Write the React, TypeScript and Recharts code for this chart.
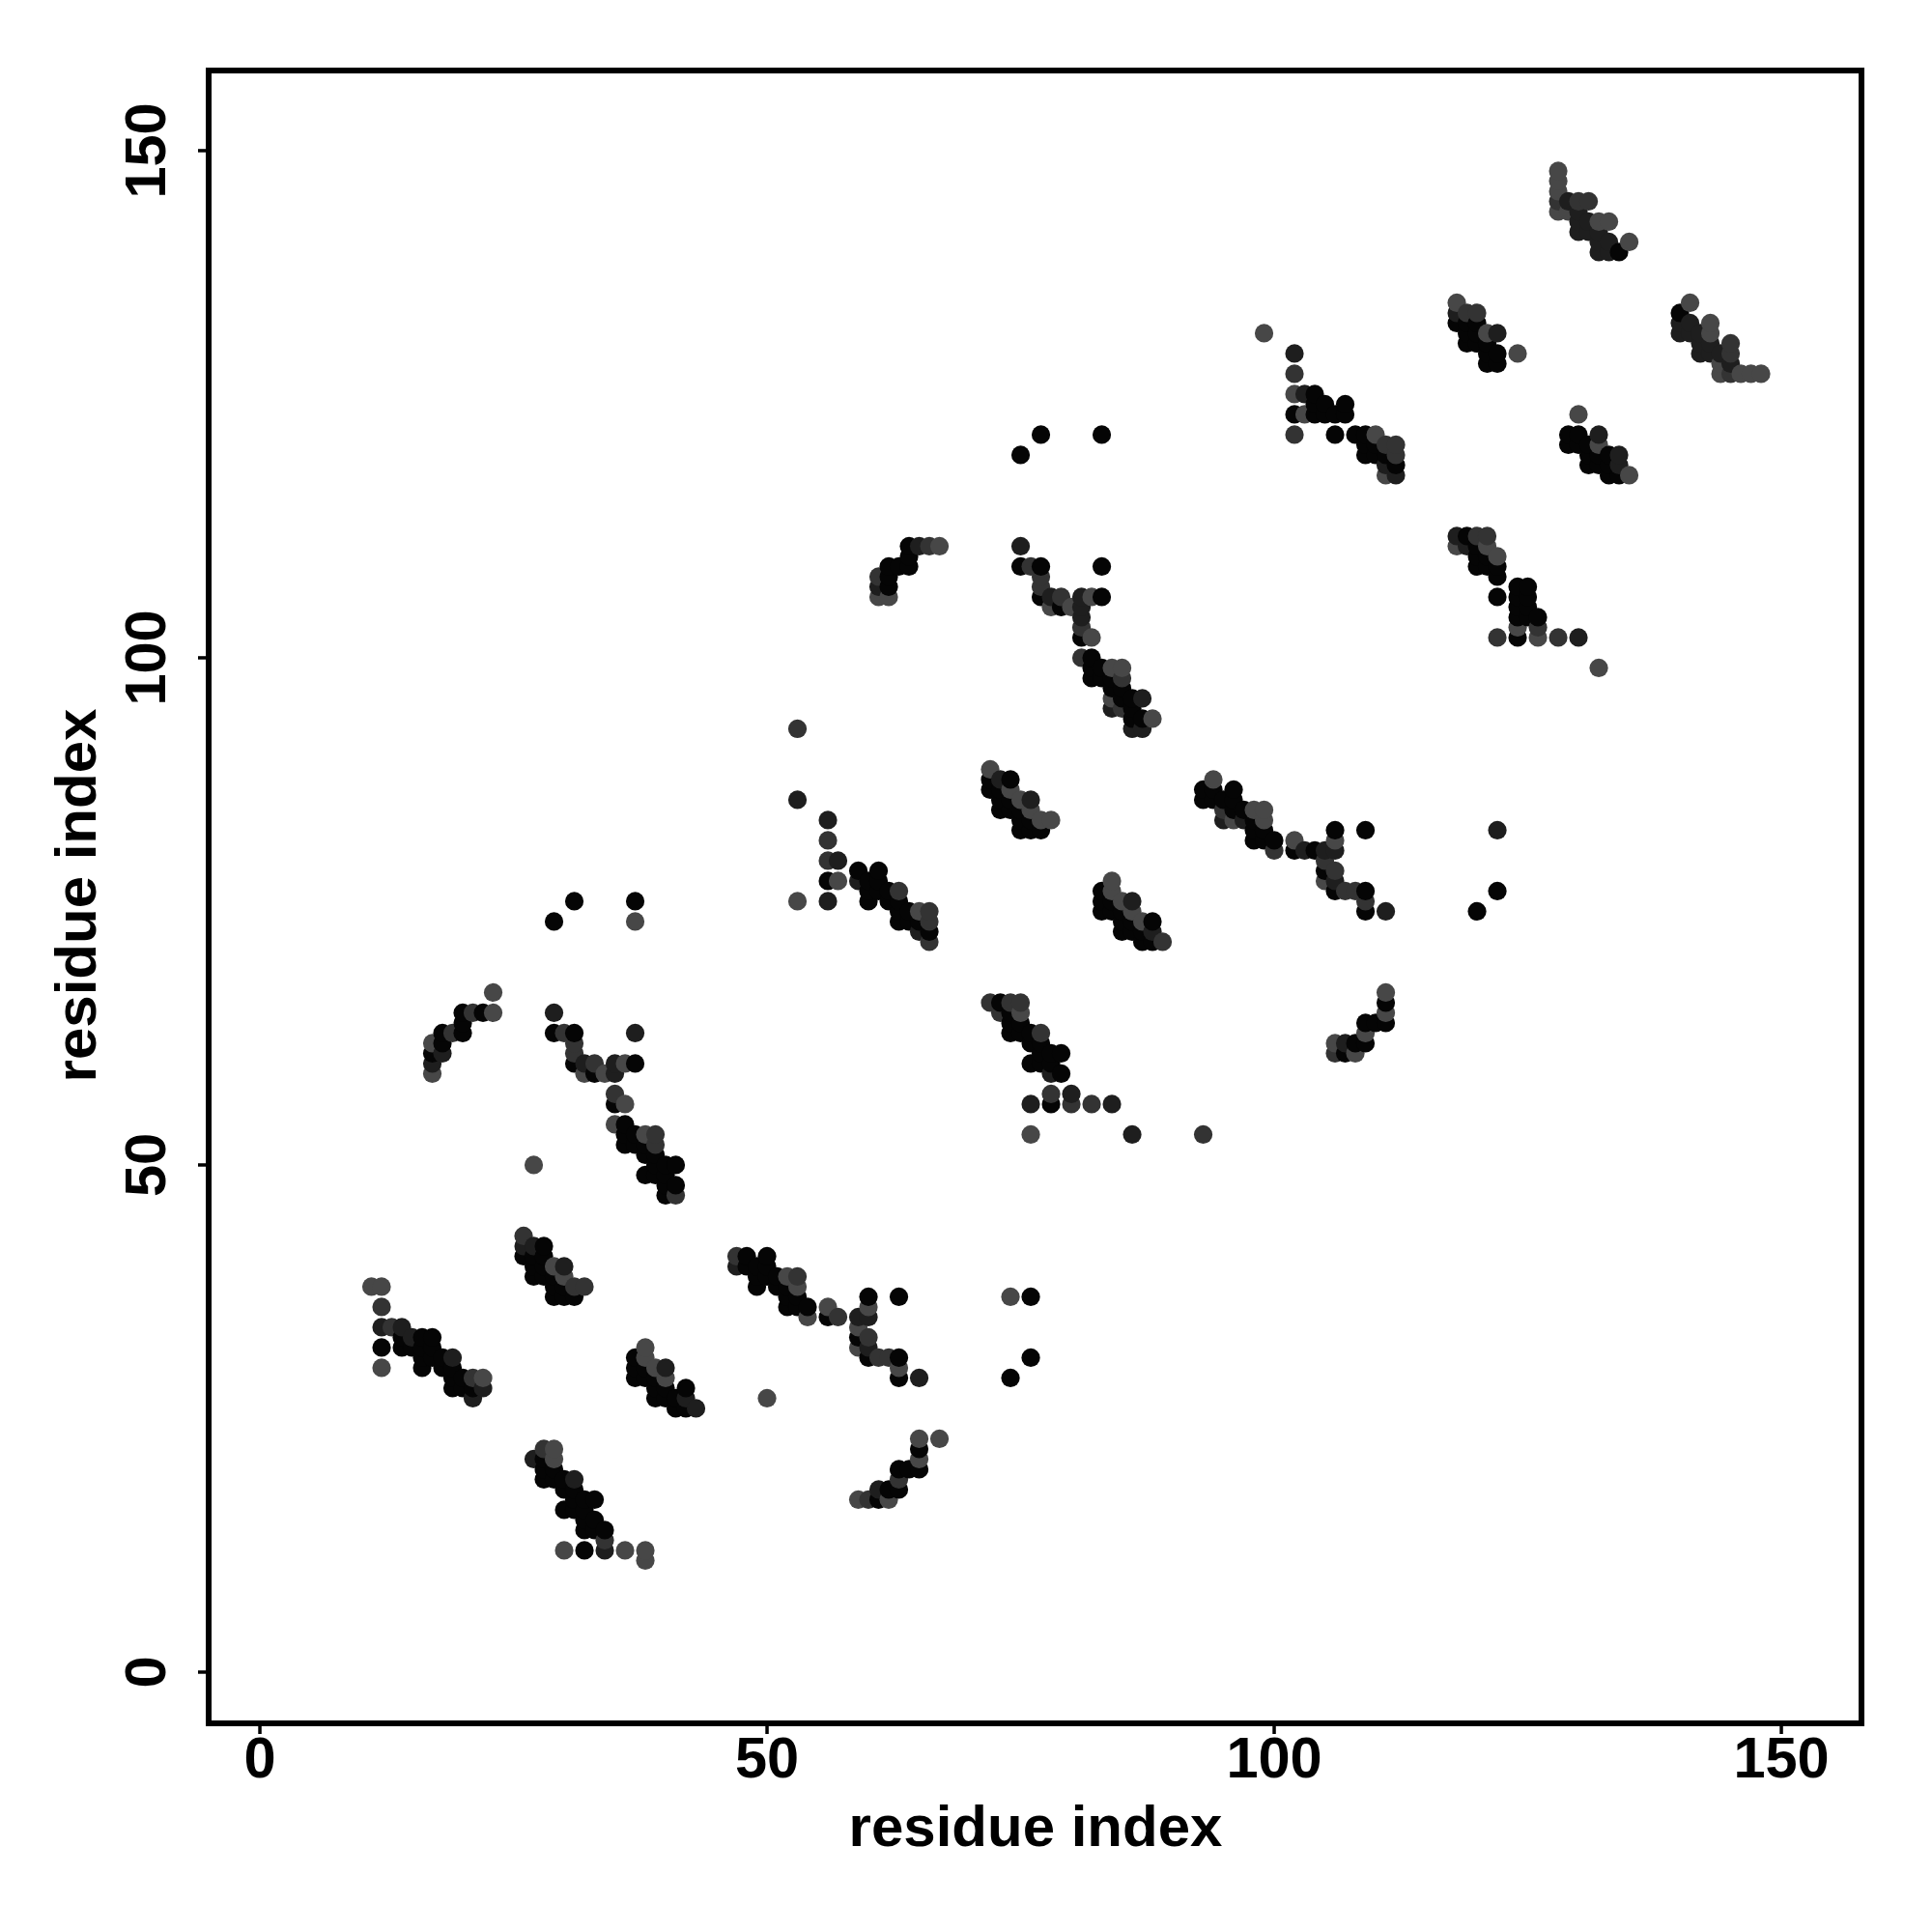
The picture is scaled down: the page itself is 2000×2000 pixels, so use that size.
import { ScatterChart, Scatter, XAxis, YAxis, ReferenceArea } from 'recharts';

// [residue i, residue j, shade level] - level 0 is darkest, 3 is lightest
type Contact = [number, number, number];

const TICKS = [0, 50, 100, 150];
const AXIS_TITLE = 'residue index';
const SHADES = ['#050505', '#1e1e1e', '#333333', '#474747'];

const clusterA: Contact[] = [
  [11, 38, 3], [12, 38, 3], [12, 36, 2], [12, 34, 1], [13, 34, 2], [14, 34, 1], [12, 32, 0], [12, 30, 3],
  [14, 33, 0], [14, 32, 0], [15, 33, 1], [15, 32, 0], [16, 33, 0], [16, 32, 0], [16, 31, 0], [16, 30, 0],
  [17, 33, 0], [17, 32, 0], [17, 31, 0], [18, 31, 0], [18, 30, 0], [19, 31, 1], [19, 30, 0], [19, 29, 0],
  [19, 28, 0], [20, 29, 0], [20, 28, 0], [21, 29, 2], [21, 28, 0], [21, 27, 1], [22, 29, 3], [22, 28, 1],
];

const clusterB: Contact[] = [
  [26, 43, 2], [26, 42, 1], [26, 41, 0], [27, 42, 1], [28, 42, 0], [27, 41, 0], [27, 40, 0], [27, 39, 0],
  [28, 41, 0], [28, 40, 0], [28, 39, 0], [29, 40, 3], [30, 40, 1], [30, 39, 3], [29, 39, 0], [29, 38, 0],
  [29, 37, 0], [30, 38, 0], [30, 37, 0], [31, 38, 2], [31, 37, 0], [32, 38, 2],
];

const clusterC: Contact[] = [
  [38, 32, 3], [37, 31, 0], [37, 30, 0], [37, 29, 0], [38, 31, 3], [38, 30, 0], [38, 29, 0], [39, 30, 3],
  [40, 30, 1], [40, 29, 3], [39, 29, 0], [39, 28, 0], [39, 27, 0], [40, 28, 0], [40, 27, 0], [41, 27, 0],
  [41, 26, 0], [42, 28, 0], [42, 27, 1], [42, 26, 0], [43, 26, 1],
];

const clusterD: Contact[] = [
  [29, 22, 3], [28, 22, 2], [27, 21, 1], [28, 21, 0], [29, 21, 3], [28, 20, 0], [28, 19, 0], [29, 20, 0],
  [29, 19, 0], [30, 19, 0], [30, 18, 0], [31, 19, 1], [31, 18, 0], [31, 17, 0], [30, 16, 0], [31, 16, 0],
  [32, 17, 0], [33, 17, 0], [32, 16, 0], [32, 15, 0], [33, 15, 0], [32, 14, 0], [33, 14, 0], [34, 14, 0],
  [34, 13, 2], [34, 12, 1], [30, 12, 3], [32, 12, 0], [36, 12, 3], [38, 12, 3], [38, 11, 3],
];

const clusterE: Contact[] = [
  [47, 41, 2], [47, 40, 1], [48, 41, 0], [48, 40, 0], [50, 41, 0], [49, 40, 0], [49, 39, 0], [49, 38, 0],
  [50, 40, 0], [50, 39, 0], [51, 39, 0], [51, 38, 0], [52, 39, 3], [53, 39, 2], [53, 38, 3], [52, 38, 0],
  [52, 37, 0], [52, 36, 0], [53, 37, 0], [53, 36, 0], [54, 36, 0], [54, 35, 3], [56, 36, 3], [56, 35, 0],
  [57, 35, 2], [60, 37, 0], [60, 36, 3], [60, 35, 1], [59, 35, 1], [59, 34, 3], [59, 33, 0], [59, 32, 3],
  [60, 33, 2], [60, 32, 1], [60, 31, 0], [61, 31, 2], [62, 31, 2], [63, 31, 0], [63, 30, 3], [63, 29, 0],
  [65, 29, 1], [63, 37, 0], [74, 37, 3], [76, 37, 0], [76, 31, 0], [74, 29, 0], [50, 27, 3],
];

const clusterF: Contact[] = [
  [65, 23, 3], [67, 23, 3], [65, 22, 0], [65, 21, 3], [65, 20, 0], [64, 20, 0], [63, 20, 0], [63, 19, 2],
  [63, 18, 0], [62, 18, 0], [61, 18, 1], [62, 17, 3], [61, 17, 0], [60, 17, 2], [59, 17, 3],
];

const clusterG: Contact[] = [
  [31, 76, 0], [37, 76, 0], [29, 74, 0], [37, 74, 3], [23, 67, 3], [23, 65, 3], [22, 65, 0], [21, 65, 2],
  [20, 65, 0], [20, 64, 0], [20, 63, 0], [19, 63, 2], [18, 63, 0], [18, 62, 0], [18, 61, 1], [17, 62, 3],
  [17, 61, 0], [17, 60, 1], [17, 59, 3],
];

const clusterH: Contact[] = [
  [29, 65, 1], [29, 63, 0], [30, 63, 2], [31, 63, 0], [31, 62, 2], [31, 61, 2], [31, 60, 0], [32, 60, 1],
  [33, 60, 2], [32, 59, 3], [33, 59, 0], [34, 59, 3], [35, 60, 1], [35, 59, 1], [36, 60, 3], [37, 60, 0],
  [37, 63, 1], [35, 57, 2], [35, 56, 0], [36, 56, 3], [35, 54, 3], [36, 54, 0], [36, 53, 0], [36, 52, 0],
  [37, 53, 0], [37, 52, 0], [38, 53, 3], [39, 53, 2], [39, 52, 2], [38, 52, 0], [38, 51, 0], [39, 51, 0],
  [39, 50, 0], [38, 49, 0], [39, 49, 0], [40, 50, 0], [41, 50, 0], [40, 49, 0], [41, 48, 0], [40, 48, 0],
  [40, 47, 0], [41, 47, 2], [27, 50, 3],
];

const clusterI: Contact[] = [
  [53, 93, 2], [53, 86, 1], [56, 84, 1], [56, 82, 2], [56, 80, 2], [57, 80, 1], [56, 78, 0], [57, 78, 3],
  [56, 76, 1], [53, 76, 3], [59, 79, 0], [59, 78, 1], [61, 79, 0], [60, 78, 0], [60, 77, 0], [60, 76, 0],
  [61, 78, 0], [61, 77, 0], [62, 77, 0], [62, 76, 0], [63, 77, 2], [63, 76, 0], [63, 75, 0], [63, 74, 0],
  [64, 74, 0], [64, 75, 0], [65, 75, 3], [66, 75, 2], [66, 74, 2], [65, 74, 0], [65, 73, 1], [66, 73, 0],
  [66, 72, 2],
];

const clusterJ: Contact[] = [
  [72, 89, 3], [72, 88, 0], [72, 87, 0], [73, 88, 1], [74, 88, 0], [73, 87, 0], [73, 86, 0], [73, 85, 0],
  [74, 87, 3], [75, 86, 3], [76, 86, 1], [74, 86, 0], [74, 85, 0], [75, 85, 0], [75, 84, 0], [75, 83, 0],
  [76, 85, 3], [76, 84, 0], [76, 83, 0], [77, 83, 0], [77, 84, 3], [78, 84, 3],
];

const clusterK: Contact[] = [
  [84, 78, 3], [83, 77, 0], [83, 76, 0], [83, 75, 0], [84, 77, 3], [84, 76, 0], [84, 75, 0], [85, 76, 3],
  [86, 76, 1], [86, 75, 3], [85, 75, 0], [85, 74, 0], [85, 73, 0], [86, 74, 0], [86, 73, 0], [87, 74, 3],
  [88, 74, 0], [87, 73, 0], [87, 72, 0], [88, 73, 1], [88, 72, 0], [89, 72, 2],
];

const clusterL: Contact[] = [
  [94, 88, 3], [93, 87, 0], [93, 86, 0], [94, 87, 0], [94, 86, 0], [96, 87, 0], [95, 86, 0], [96, 86, 0],
  [95, 85, 2], [95, 84, 1], [96, 85, 0], [96, 84, 3], [97, 85, 0], [97, 84, 1], [98, 85, 3], [99, 85, 3],
  [99, 84, 3], [98, 84, 0], [98, 83, 0], [98, 82, 0], [99, 83, 0], [99, 82, 0], [100, 82, 0], [100, 81, 2],
];

const clusterM: Contact[] = [
  [102, 82, 3], [102, 81, 0], [103, 81, 1], [104, 81, 0], [105, 81, 1], [106, 83, 0], [106, 82, 3],
  [106, 81, 1], [109, 83, 0], [105, 80, 2], [105, 79, 0], [105, 78, 3], [106, 79, 2], [106, 78, 1],
  [106, 77, 0], [107, 77, 2], [108, 77, 2], [109, 77, 0], [109, 76, 2], [109, 75, 0], [111, 75, 1],
  [122, 83, 1], [122, 77, 0], [120, 75, 0],
];

const clusterN: Contact[] = [
  [72, 66, 2], [73, 66, 0], [74, 66, 2], [75, 66, 2], [73, 65, 2], [74, 65, 0], [75, 65, 3], [74, 64, 0],
  [74, 63, 0], [75, 64, 0], [75, 63, 0], [76, 63, 0], [76, 62, 0], [77, 63, 2], [77, 62, 0], [77, 61, 0],
  [76, 60, 0], [77, 60, 0], [78, 61, 0], [79, 61, 0], [78, 60, 0], [78, 59, 1], [79, 59, 0], [78, 57, 2],
  [78, 56, 0], [80, 57, 1], [80, 56, 2], [82, 56, 2], [84, 56, 1], [76, 56, 1], [76, 53, 3], [86, 53, 1],
  [93, 53, 2],
];

const clusterO: Contact[] = [
  [111, 67, 3], [111, 66, 0], [111, 65, 3], [111, 64, 0], [110, 64, 0], [109, 64, 0], [109, 63, 3],
  [109, 62, 0], [108, 62, 0], [107, 62, 1], [108, 61, 3], [107, 61, 0], [106, 62, 3], [106, 61, 2],
];

const clusterP: Contact[] = [
  [77, 122, 0], [83, 122, 0], [75, 120, 0], [75, 111, 1], [75, 109, 0], [76, 109, 2], [77, 109, 0],
  [77, 108, 2], [77, 107, 2], [77, 106, 0], [78, 106, 1], [79, 106, 2], [78, 105, 3], [79, 105, 0],
  [80, 105, 3], [81, 106, 1], [81, 105, 1], [81, 104, 1], [81, 103, 2], [81, 102, 0], [82, 102, 3],
  [82, 106, 3], [83, 106, 0], [83, 109, 0],
];

const clusterQ: Contact[] = [
  [81, 100, 2], [82, 100, 0], [82, 99, 0], [82, 98, 0], [83, 99, 0], [83, 98, 0], [84, 99, 3], [85, 99, 3],
  [85, 98, 2], [84, 98, 0], [84, 97, 0], [84, 96, 3], [84, 95, 1], [85, 97, 0], [85, 96, 0], [85, 95, 2],
  [86, 96, 0], [87, 96, 1], [86, 95, 0], [86, 94, 0], [86, 93, 1], [87, 94, 0], [87, 93, 1], [88, 94, 3],
];

const clusterR: Contact[] = [
  [61, 108, 2], [61, 107, 1], [61, 106, 3], [62, 109, 0], [62, 108, 0], [62, 107, 0], [62, 106, 3],
  [63, 109, 0], [64, 109, 0], [64, 110, 0], [64, 111, 0], [65, 111, 1], [66, 111, 2], [67, 111, 3],
];

const clusterS: Contact[] = [
  [99, 132, 3], [102, 130, 1], [102, 128, 2], [102, 126, 3], [103, 126, 1], [104, 126, 0], [102, 124, 0],
  [103, 124, 3], [104, 125, 0], [105, 125, 0], [104, 124, 0], [105, 124, 0], [106, 124, 0], [107, 125, 0],
  [107, 124, 0], [102, 122, 2], [106, 122, 0], [108, 122, 0], [109, 122, 0], [110, 122, 3], [109, 121, 0],
  [109, 120, 0], [110, 121, 0], [110, 120, 0], [111, 121, 2], [112, 121, 2], [112, 120, 2], [111, 120, 0],
  [111, 119, 1], [112, 119, 0], [111, 118, 3], [112, 118, 1],
];

const clusterT: Contact[] = [
  [130, 124, 3], [129, 122, 0], [129, 121, 0], [130, 122, 0], [130, 121, 0], [132, 122, 1], [132, 121, 3],
  [131, 121, 0], [131, 120, 0], [131, 119, 0], [132, 120, 0], [132, 119, 0], [133, 120, 0], [133, 119, 0],
  [133, 118, 0], [134, 120, 1], [134, 119, 1], [134, 118, 0], [135, 118, 3],
];

const clusterU: Contact[] = [
  [128, 148, 3], [128, 147, 3], [128, 146, 3], [128, 145, 2], [128, 144, 3], [129, 145, 1], [130, 145, 2],
  [131, 145, 2], [129, 144, 3], [130, 144, 1], [130, 143, 1], [130, 142, 1], [131, 143, 1], [131, 142, 1],
  [132, 143, 3], [133, 143, 3], [132, 142, 1], [132, 141, 1], [132, 140, 1], [133, 141, 1], [133, 140, 1],
  [134, 140, 0], [135, 141, 3],
];

const clusterV: Contact[] = [
  [118, 135, 3], [118, 134, 1], [118, 133, 0], [119, 134, 2], [120, 134, 2], [119, 133, 0], [119, 132, 0],
  [119, 131, 0], [120, 133, 0], [120, 132, 0], [120, 131, 0], [121, 132, 3], [122, 132, 1], [121, 131, 0],
  [121, 130, 0], [121, 129, 0], [122, 130, 0], [122, 129, 0], [124, 130, 3],
];

const clusterW: Contact[] = [
  [141, 135, 3], [140, 134, 0], [140, 133, 1], [140, 132, 1], [141, 133, 1], [141, 132, 1], [142, 132, 1],
  [142, 131, 1], [142, 130, 1], [143, 133, 3], [143, 132, 3], [143, 131, 1], [143, 130, 1], [144, 130, 1],
  [144, 129, 3], [144, 128, 3], [145, 131, 2], [145, 130, 2], [145, 129, 1], [145, 128, 2], [146, 128, 3],
  [147, 128, 3], [148, 128, 3],
];

const clusterX: Contact[] = [
  [118, 112, 1], [118, 111, 3], [119, 112, 0], [119, 111, 1], [120, 112, 2], [121, 112, 2], [121, 111, 3],
  [120, 111, 0], [120, 110, 0], [120, 109, 0], [121, 110, 0], [121, 109, 0], [122, 110, 3], [122, 109, 0],
  [122, 108, 0], [122, 106, 0], [124, 107, 0], [125, 107, 0], [124, 106, 0], [124, 105, 0], [124, 104, 0],
  [125, 106, 0], [125, 105, 0], [125, 104, 0], [126, 104, 0], [126, 103, 2], [124, 103, 3], [124, 102, 0],
  [126, 102, 3], [122, 102, 2], [128, 102, 2], [130, 102, 1], [132, 99, 3],
];

// R draws in index order, so lower residues end up underneath
const contacts = [
  clusterA, clusterB, clusterC, clusterD, clusterE, clusterF, clusterG, clusterH,
  clusterI, clusterJ, clusterK, clusterL, clusterM, clusterN, clusterO, clusterP,
  clusterQ, clusterR, clusterS, clusterT, clusterU, clusterV, clusterW, clusterX,
]
  .flat()
  .map(([x, y, level]) => ({ x, y, level }))
  .sort((a, b) => a.x - b.x || a.y - b.y);

const AXIS_MIN = -5.05;
const AXIS_MAX = 157.9;
const FONT = '"Liberation Sans", Arial, sans-serif';
const TITLE_STYLE = { fontFamily: FONT, fontWeight: 700, fontSize: 60, fill: '#000' };

const Dot = (props: any) => (
  <circle cx={props.cx} cy={props.cy} r={9.6} fill={SHADES[props.payload.level]} />
);

const XTick = ({ x, payload }: any) => (
  <text x={x} y={1840} textAnchor="middle" fontFamily={FONT} fontWeight={700} fontSize={59.5} fill="#000">
    {payload.value}
  </text>
);

const YTick = ({ y, payload }: any) => (
  <text
    x={171}
    y={y}
    transform={`rotate(-90 171 ${y})`}
    textAnchor="middle"
    fontFamily={FONT}
    fontWeight={700}
    fontSize={59.5}
    fill="#000"
  >
    {payload.value}
  </text>
);

const XTitle = () => (
  <text x={1072} y={1911} textAnchor="middle" {...TITLE_STYLE}>
    {AXIS_TITLE}
  </text>
);

const YTitle = () => (
  <text x={99} y={927} transform="rotate(-90 99 927)" textAnchor="middle" {...TITLE_STYLE}>
    {AXIS_TITLE}
  </text>
);

export default function App() {
  return (
    <div style={{ position: 'absolute', left: 0, top: 0, width: 2000, height: 2000, background: '#fff' }}>
      <ScatterChart
        width={2000}
        height={2000}
        margin={{ top: 73, right: 73, bottom: 46, left: 46 }}
      >
        <XAxis
          type="number"
          dataKey="x"
          domain={[AXIS_MIN, AXIS_MAX]}
          ticks={TICKS}
          interval={0}
          height={170}
          axisLine={false}
          tickSize={11}
          tickLine={{ stroke: '#000', strokeWidth: 3.5 }}
          tick={<XTick />}
          label={<XTitle />}
        />
        <YAxis
          type="number"
          dataKey="y"
          domain={[AXIS_MIN, AXIS_MAX]}
          ticks={TICKS}
          interval={0}
          width={170}
          axisLine={false}
          tickSize={11}
          tickLine={{ stroke: '#000', strokeWidth: 3.5 }}
          tick={<YTick />}
          label={<YTitle />}
        />
        <ReferenceArea
          x1={AXIS_MIN}
          x2={AXIS_MAX}
          y1={AXIS_MIN}
          y2={AXIS_MAX}
          fill="none"
          stroke="#000"
          strokeWidth={6}
          ifOverflow="visible"
        />
        <Scatter data={contacts} shape={<Dot />} isAnimationActive={false} />
      </ScatterChart>
    </div>
  );
}
